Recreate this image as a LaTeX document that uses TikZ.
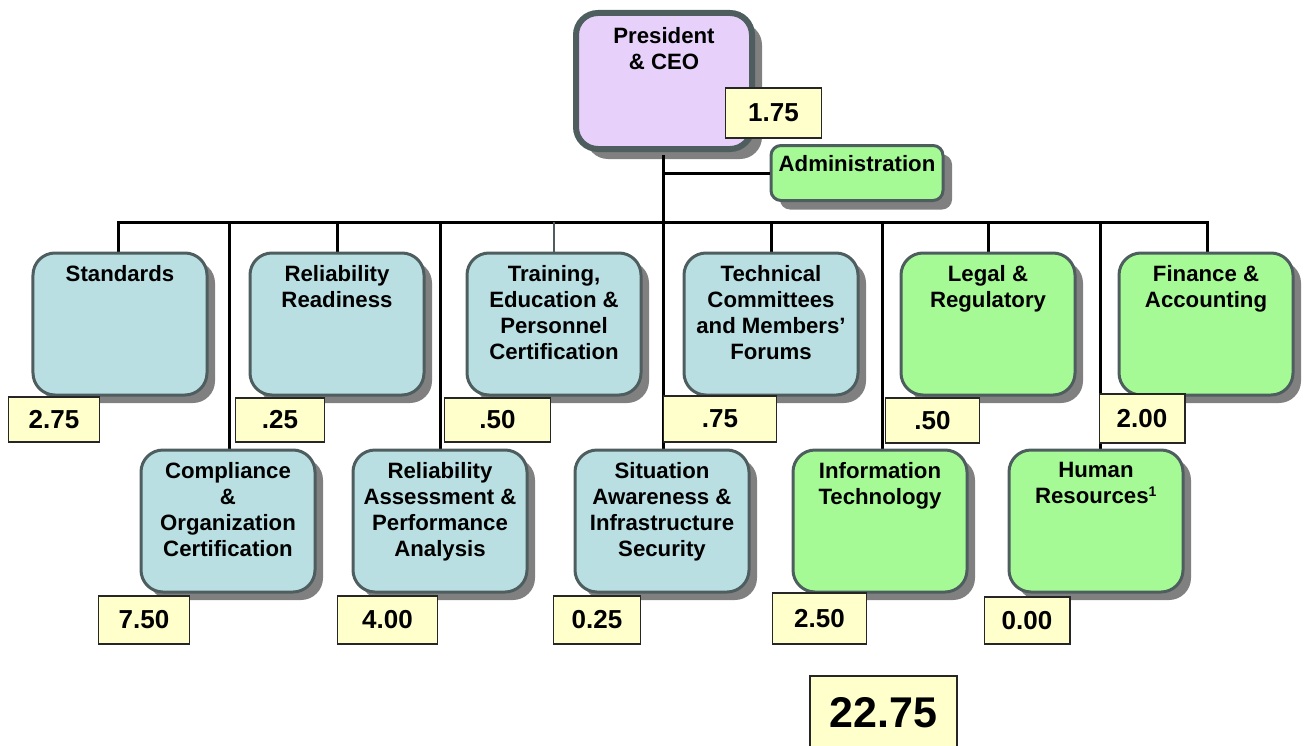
\documentclass[tikz,border=0pt]{standalone}
\usepackage{fontspec}
\setmainfont{Liberation Sans}
\usetikzlibrary{shadows}
\definecolor{bluefill}{HTML}{B9DFE2}
\definecolor{greenfill}{HTML}{A6FA96}
\definecolor{purplefill}{HTML}{E7D1FB}
\definecolor{valfill}{HTML}{FFFFCC}
\definecolor{bordergray}{HTML}{4E5E5E}
\definecolor{shadowgray}{HTML}{808080}
\tikzset{
  unitbox/.style={draw=bordergray, line width=3bp, rounded corners=22bp,
    minimum width=174bp, minimum height=142bp, inner sep=0pt,
    drop shadow={shadow xshift=8bp, shadow yshift=-8bp, fill=shadowgray, opacity=1}},
  bluebox/.style={unitbox, fill=bluefill},
  greenbox/.style={unitbox, fill=greenfill},
  boxtext/.style={anchor=north, align=center, inner sep=0pt,
    font=\fontsize{22.2bp}{26bp}\selectfont\bfseries},
  valbox/.style={draw=black!85, line width=1.3bp, fill=valfill, inner sep=0pt,
    font=\fontsize{26bp}{30bp}\selectfont\bfseries},
  bus/.style={line width=3bp, black},
}
\begin{document}
\begin{tikzpicture}[x=1bp, y=-1bp]
\useasboundingbox (0,0) rectangle (1306,745);

% ---------- top ----------
\node[draw=bordergray, line width=6bp, rounded corners=22bp, fill=purplefill,
  minimum width=176bp, minimum height=136bp, inner sep=0pt,
  drop shadow={shadow xshift=10bp, shadow yshift=-10bp, fill=shadowgray, opacity=1}]
  (ceo) at (664,81) {};
\node[boxtext] (ceot) at (664,27) {President\\\& CEO};

\node[draw=bordergray, line width=3bp, rounded corners=10bp, fill=greenfill,
  minimum width=172bp, minimum height=55bp, inner sep=0pt,
  drop shadow={shadow xshift=9bp, shadow yshift=-9bp, fill=shadowgray, opacity=1}]
  (adm) at (857,173) {};
\node[boxtext] (admt) at (857,155) {Administration};

% connectors
\coordinate (trunkTop) at (663,155);
\coordinate (trunkBot) at (663,596);
\coordinate (admJ) at (663,173);
\draw[bus] (trunkTop) -- (trunkBot);
\draw[bus] (admJ) -- (adm.west);
\draw[bus] (118,253) -- (118,222) -- (1207,222) -- (1207,253);
\foreach \x/\y in {229/450, 337/253, 440/450, 771/253, 882/450, 988/253, 1100/450}
  \draw[bus] (\x,222) -- (\x,\y);
\draw[line width=2bp, bordergray] (554,222) -- (554,253);

% ---------- top row ----------
\node[bluebox] (std) at (120,324) {};
\node[boxtext] (stdt) at (std.north) [yshift=-14bp] {Standards};
\node[bluebox] (rr) at (337,324) {};
\node[boxtext] (rrt) at (rr.north) [yshift=-14bp] {Reliability\\Readiness};
\node[bluebox] (tr) at (554,324) {};
\node[boxtext] (trt) at (tr.north) [yshift=-14bp] {Training,\\Education \&\\Personnel\\Certification};
\node[bluebox] (tc) at (771,324) {};
\node[boxtext] (tct) at (tc.north) [yshift=-14bp] {Technical\\Committees\\and Members’\\Forums};
\node[greenbox] (lg) at (988,324) {};
\node[boxtext] (lgt) at (lg.north) [yshift=-14bp] {Legal \&\\Regulatory};
\node[greenbox] (fin) at (1206,324) {};
\node[boxtext] (fint) at (fin.north) [yshift=-14bp] {Finance \&\\Accounting};

% ---------- bottom row ----------
\node[bluebox] (comp) at (228,521) {};
\node[boxtext] (compt) at (comp.north) [yshift=-14bp] {Compliance\\\&\\Organization\\Certification};
\node[bluebox] (ra) at (440,521) {};
\node[boxtext] (rat) at (ra.north) [yshift=-14bp] {Reliability\\Assessment \&\\Performance\\Analysis};
\node[bluebox] (sa) at (662,521) {};
\node[boxtext] (sat) at (sa.north) [yshift=-14bp] {Situation\\Awareness \&\\Infrastructure\\Security};
\node[greenbox] (it) at (880,521) {};
\node[boxtext] (itt) at (it.north) [yshift=-14bp] {Information\\Technology};
\node[greenbox] (hr) at (1096,521) {};
\node[boxtext] (hrt) at (hr.north) [yshift=-14bp] {Human\\Resources\textsuperscript{\fontsize{14bp}{14bp}\selectfont 1}};

% ---------- values ----------
\foreach \n/\xa/\ya/\xb/\yb/\t in {
  v175/725/88/822/138/1.75,
  v275/8/397/100/442/2.75,
  v025/235/398/325/442/.25,
  v050/444/398/551/442/.50,
  v075/663/396/777/442/.75,
  v050b/885/398/980/443/.50,
  v200/1099/394/1185/443/2.00,
  v750/98/596/190/644/7.50,
  v400/337/596/438/644/4.00,
  v025b/553/596/641/644/0.25,
  v250/772/593/867/644/2.50,
  v000/984/597/1070/644/0.00}
{
  \node[valbox, minimum width=\xb-\xa, minimum height=\yb-\ya] (\n) at ({(\xa+\xb)/2},{(\ya+\yb)/2}) {\t};
}
\node[valbox, minimum width=147bp, minimum height=74bp,
  font=\fontsize{43bp}{47bp}\selectfont\bfseries] (total) at (883.5,713) {22.75};
\end{tikzpicture}
\end{document}
